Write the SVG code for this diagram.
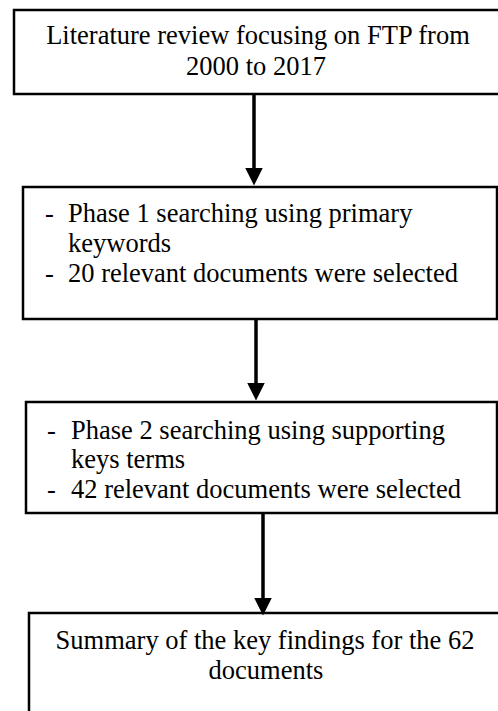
<svg xmlns="http://www.w3.org/2000/svg" width="498" height="711" viewBox="0 0 498 711">
<style>
.box{fill:#fff;stroke:#000;stroke-width:2.5}
.t{font-family:"Liberation Serif","Times New Roman",serif;font-size:26.5px;fill:#000}
.c{text-anchor:middle}
.conn{stroke:#000;stroke-width:3.5;fill:none}
</style>
<defs>
<marker id="ah" markerWidth="5" markerHeight="5" refX="0" refY="2.5" orient="auto" markerUnits="strokeWidth" viewBox="0 0 5 5">
<path d="M0,0 L5,2.5 L0,5 Z" fill="#000"/>
</marker>
</defs>
<g id="n1">
<rect class="box" x="14" y="10" width="490" height="84"/>
<text class="t c" x="258" y="44">Literature review focusing on FTP from</text>
<text class="t c" x="256" y="75">2000 to 2017</text>
</g>
<g id="n2">
<rect class="box" x="23" y="187" width="474" height="132"/>
<text class="t" x="45" y="222">-</text>
<text class="t" x="68" y="222">Phase 1 searching using primary</text>
<text class="t" x="68" y="252">keywords</text>
<text class="t" x="45" y="282">-</text>
<text class="t" x="68" y="282">20 relevant documents were selected</text>
</g>
<g id="n3">
<rect class="box" x="26" y="402" width="471" height="111"/>
<text class="t" x="47" y="439">-</text>
<text class="t" x="71" y="439">Phase 2 searching using supporting</text>
<text class="t" x="71" y="468">keys terms</text>
<text class="t" x="47" y="498">-</text>
<text class="t" x="71" y="498">42 relevant documents were selected</text>
</g>
<g id="n4">
<rect class="box" x="29" y="613" width="474" height="110"/>
<text class="t c" x="265" y="649">Summary of the key findings for the 62</text>
<text class="t c" x="266" y="679">documents</text>
</g>
<g id="connectors">
<line class="conn" x1="254" y1="95" x2="254" y2="168" marker-end="url(#ah)"/>
<line class="conn" x1="256" y1="320" x2="256" y2="383" marker-end="url(#ah)"/>
<line class="conn" x1="263" y1="514" x2="263" y2="598" marker-end="url(#ah)"/>
</g>
</svg>
